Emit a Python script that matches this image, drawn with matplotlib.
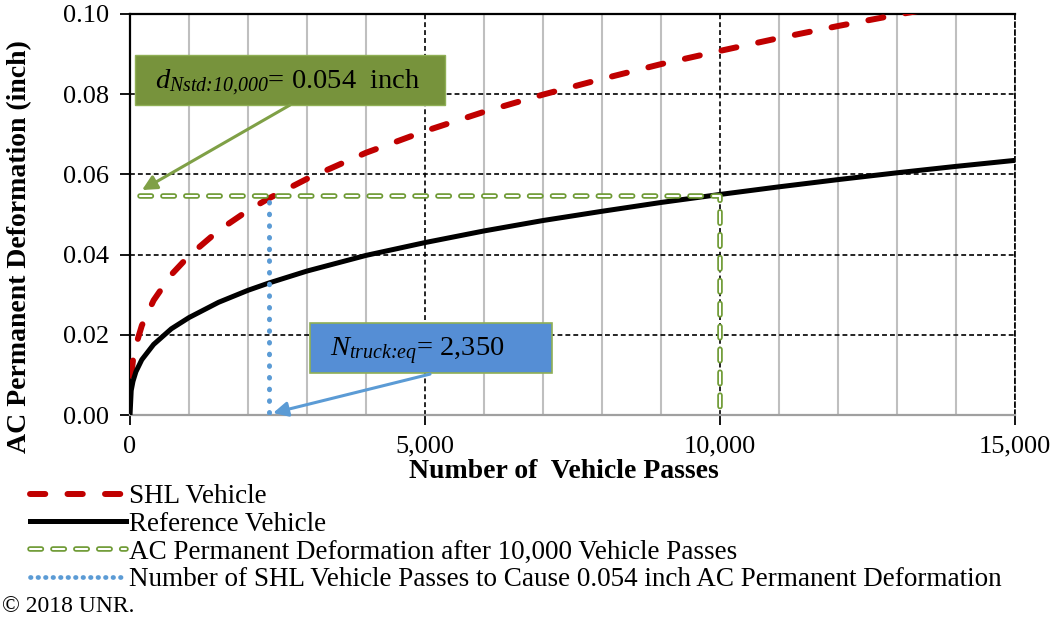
import matplotlib
matplotlib.use("Agg")
import matplotlib.pyplot as plt
from matplotlib.lines import Line2D
from matplotlib.patches import Rectangle
from matplotlib.ticker import MultipleLocator, FuncFormatter

# ---------------------------------------------------------------
# Data
# ---------------------------------------------------------------
passes = [0, 20, 50, 100, 200, 400, 700, 1000, 1500, 2000, 2350, 3000, 4000,
          5000, 6000, 7000, 8000, 9000, 10000, 11000, 12000, 13000, 14000, 15000]
reference_def = [0.0, 0.0061, 0.0084, 0.0108, 0.0138, 0.0176, 0.0215, 0.0243,
                 0.0281, 0.0311, 0.0329, 0.0359, 0.0398, 0.0430, 0.0459, 0.0485,
                 0.0508, 0.0530, 0.0550, 0.0569, 0.0587, 0.0604, 0.0620, 0.0635]

shl_passes = passes[1:]
shl_def = [0.0098, 0.0136, 0.0174, 0.0223, 0.0286, 0.0350, 0.0397, 0.0460,
           0.0510, 0.0540, 0.0589, 0.0654, 0.0708, 0.0756, 0.0799, 0.0838,
           0.0875, 0.0908, 0.0940, 0.0970, 0.0998, 0.1025, 0.1051]

# 10,000-pass reference deformation (green) and equivalent SHL passes (blue)
green_x = [170, 10000, 10000]
green_y = [0.0546, 0.0546, 0.0]
blue_x = [2350, 2350]
blue_y = [0.0532, 0.0]

x_ticks = [0, 5000, 10000, 15000]
y_ticks = [0.00, 0.02, 0.04, 0.06, 0.08, 0.10]

legend_labels = ["SHL Vehicle", "Reference Vehicle",
                 "AC Permanent Deformation after 10,000 Vehicle Passes",
                 "Number of SHL Vehicle Passes to Cause 0.054 inch AC Permanent Deformation"]

# ---------------------------------------------------------------
# Style
# ---------------------------------------------------------------
plt.rcParams['font.family'] = ['Liberation Serif', 'DejaVu Serif']
plt.rcParams['mathtext.fontset'] = 'custom'
plt.rcParams['mathtext.rm'] = 'Liberation Serif:italic'   # subscripts fully italic
plt.rcParams['mathtext.it'] = 'Liberation Serif:italic'
plt.rcParams['mathtext.bf'] = 'Liberation Serif:bold'
plt.rcParams['lines.scale_dashes'] = False

RED = '#C00000'
GREEN = '#6E9A34'
GREEN_ARROW = '#7FA046'
BLUE = '#5B9BD5'
BOX_BLUE = '#558ED5'

fig = plt.figure(figsize=(10.58, 6.27), dpi=100)
ax = fig.add_axes([0.1229, 0.3381, 0.8365, 0.6396])
ax.set_axisbelow(True)

# curves
ax.plot(shl_passes, shl_def, color=RED, lw=4.3, dashes=(11, 16),
        dash_capstyle='round', zorder=4)
ax.plot(passes, reference_def, color='black', lw=3.6, zorder=5)

# green "double" dashed line
ax.plot(green_x, green_y, color=GREEN, lw=4.0, dashes=(8.2, 8.3),
        dash_capstyle='round', zorder=6)
ax.plot(green_x, green_y, color='white', lw=1.5, dashes=(8.2, 8.3),
        dash_capstyle='round', zorder=6)

# blue dotted line
ax.plot(blue_x, blue_y, color=BLUE, lw=3.6, dashes=(0.4, 8.0),
        dash_capstyle='round', zorder=6)

# axes
ax.set_xlim(0, 15000)
ax.set_ylim(0, 0.10)
ax.set_xticks(x_ticks)
ax.set_yticks(y_ticks)
ax.xaxis.set_minor_locator(MultipleLocator(1000))
ax.xaxis.set_major_formatter(FuncFormatter(lambda v, p: f'{v:,.0f}'))
ax.yaxis.set_major_formatter(FuncFormatter(lambda v, p: f'{v:.2f}'))
ax.tick_params(axis='both', which='major', direction='out', length=7,
               width=1.3, labelsize=19, color='black')
ax.tick_params(axis='x', which='major', pad=8)
ax.tick_params(axis='y', which='major', pad=8)
ax.tick_params(axis='x', which='minor', length=0)

ax.grid(which='major', color='black', lw=1.2, ls=(0, (3.5, 2.2)))
ax.grid(which='minor', axis='x', color='#BFBFBF', lw=1.5, ls='-')

ax.spines['left'].set_color('black')
ax.spines['left'].set_linewidth(1.6)
ax.spines['top'].set_color('black')
ax.spines['top'].set_linewidth(1.6)
ax.spines['bottom'].set_color('#A0A0A0')
ax.spines['bottom'].set_linewidth(1.6)
ax.spines['right'].set_color('black')
ax.spines['right'].set_linewidth(1.2)
ax.spines['right'].set_linestyle((0, (3.5, 2.2)))

fig.text(20 / 1058, 1 - 247 / 627, 'AC Permanent Deformation (inch)',
         rotation=90, ha='center', va='center', fontsize=20, fontweight='bold')
fig.text(564 / 1058, 1 - 471 / 627, 'Number of  Vehicle Passes',
         ha='center', va='center', fontsize=20, fontweight='bold')

# annotation boxes
ax.add_patch(Rectangle((0.0056, 0.773), 0.350, 0.1247, transform=ax.transAxes,
                       facecolor='#77933C', edgecolor='#8FAF55', lw=1.0, zorder=7))
ax.text(0.1785, 0.828, r'$d_{\text{Nstd:10,000}}$= 0.054  inch',
        transform=ax.transAxes, ha='center', va='center', fontsize=20.5, zorder=8)

ax.add_patch(Rectangle((0.2034, 0.1055), 0.2731, 0.1247, transform=ax.transAxes,
                       facecolor=BOX_BLUE, edgecolor='#8FAF55', lw=1.2, zorder=7))
ax.text(0.325, 0.160, r'$N_{\text{truck:eq}}$= 2,350',
        transform=ax.transAxes, ha='center', va='center', fontsize=20.5, zorder=8)

ax.annotate('', xy=(203, 0.0561), xytext=(2712, 0.0773),
            arrowprops=dict(arrowstyle='-|>', color=GREEN_ARROW, lw=2.2,
                            mutation_scale=22, shrinkA=0, shrinkB=0), zorder=8)
ax.annotate('', xy=(2424, 0.0005), xytext=(5085, 0.0102),
            arrowprops=dict(arrowstyle='-|>', color=BLUE, lw=2.2,
                            mutation_scale=22, shrinkA=0, shrinkB=0), zorder=8)

# legend
h_red = Line2D([], [], color=RED, lw=4.3, dashes=(11, 16), dash_capstyle='round')
h_black = Line2D([], [], color='black', lw=3.6)
h_green = (Line2D([], [], color=GREEN, lw=4.0, dashes=(8.2, 8.3), dash_capstyle='round'),
           Line2D([], [], color='white', lw=1.5, dashes=(8.2, 8.3), dash_capstyle='round'))
h_blue = Line2D([], [], color=BLUE, lw=3.4, dashes=(0.4, 5.0), dash_capstyle='round')
fig.legend([h_red, h_black, h_green, h_blue], legend_labels,
           loc='upper left', bbox_to_anchor=(30 / 1058, 1 - 484 / 627),
           frameon=False, fontsize=19.5, handlelength=3.55, handletextpad=0.1,
           labelspacing=0.1, borderpad=0, borderaxespad=0)

fig.text(2 / 1058, 1 - 606 / 627, '\u00a9 2018 UNR.', ha='left', va='center',
         fontsize=17)

fig.savefig('out.png', dpi=100)
